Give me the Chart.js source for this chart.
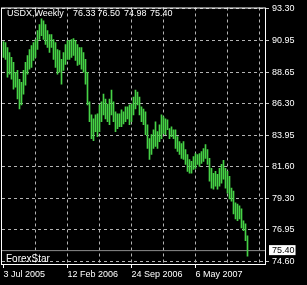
<!DOCTYPE html>
<html><head><meta charset="utf-8">
<script src="https://cdn.jsdelivr.net/npm/chart.js@4"></script>
<style>html,body{margin:0;padding:0;background:#000;overflow:hidden}#wrap{width:307px;height:285px}</style>
</head><body><div id="wrap"><canvas id="c" width="307" height="285"></canvas></div>
<script>
// Weekly USDX bars, starting week of 3 Jul 2005 (index 0)
const lows = [89.71,89.56,88.24,88.46,88.09,87.36,87.51,86.63,85.89,86.19,86.99,87.65,88.46,88.83,88.97,89.49,89.71,90.29,91.03,91.32,
91.03,90.66,90.44,90.07,90.44,89.56,88.97,88.46,88.61,87.73,88.75,89.19,89.56,89.56,89.71,89.85,89.49,89.12,89.19,88.83,
88.61,87.73,86.19,84.94,83.69,83.55,84.21,83.84,84.21,84.94,85.45,85.16,84.94,84.72,85.45,84.94,84.21,84.43,84.57,84.57,
84.79,84.94,85.16,84.72,84.94,85.45,85.89,86.19,85.45,84.94,84.72,83.99,82.96,82.15,82.52,82.96,83.11,82.96,83.47,83.69,
84.06,83.99,84.35,83.69,83.84,83.69,82.96,82.74,82.52,82.23,82.15,81.79,81.27,81.13,81.13,81.42,81.49,81.79,81.64,81.86,
82.01,82.23,81.79,80.54,80.03,79.95,80.17,79.95,80.17,80.39,80.69,80.03,79.66,79.22,79.07,78.12,77.75,77.61,77.75,77.09,
76.87,76.14,74.98];
const highs = [90.88,90.81,90.44,90.07,89.71,89.34,88.61,88.75,88.09,87.87,88.75,89.34,89.85,90.29,90.59,90.81,91.03,91.69,92.13,92.57,
92.42,92.13,91.69,91.39,91.39,91.03,90.81,90.29,90.22,89.56,90.07,90.66,90.95,90.95,91.03,91.10,90.95,90.66,90.44,90.44,
90.07,89.56,88.61,86.41,85.45,85.16,85.45,85.53,86.19,86.41,86.99,86.63,86.26,86.63,87.29,86.41,85.67,85.53,85.53,85.82,
85.67,86.04,86.04,86.19,86.26,86.77,87.29,87.14,86.77,86.04,85.89,85.67,84.72,83.69,83.99,84.35,84.94,84.21,84.72,85.45,
85.31,85.16,85.09,84.43,84.57,84.35,84.35,83.84,83.47,83.33,83.47,82.89,82.52,82.15,82.01,82.37,82.59,82.52,82.59,82.74,
82.96,83.25,82.89,82.23,81.49,81.13,81.27,81.05,81.49,81.79,82.08,81.49,81.27,80.91,80.03,79.81,78.93,78.85,78.71,78.49,
77.61,77.39,76.50];
const xTickBars = [0, 32, 64, 96];
const xTickLabels = ["3 Jul 2005", "12 Feb 2006", "24 Sep 2006", "6 May 2007"];
const xGridBars = [0, 16, 32, 48, 64, 80, 96, 112, 128];
const yTickLabels = ["74.60","76.95","79.30","81.60","83.95","86.30","88.65","90.95","93.30"];
const yLow = 74.60, yHigh = 93.30;
const lastPrice = 75.40;
const headerParts = ["USDX,Weekly", "76.33", "76.50", "74.98", "75.40"];
const watermark = "ForexStar";

const FONT = "'Liberation Sans', Arial, sans-serif";
const k = 255 / (yHigh - yLow);          // px per unit
const yMax = yHigh + 1.4 / k;
const yMin = yMax - 259 / k;
const yTickValues = yTickLabels.map((s, i) => yLow + i * (yHigh - yLow) / (yTickLabels.length - 1));
const isLast = v => Math.abs(v - lastPrice) < 1e-6;

const bars = lows.map((lo, i) => ({x: i, y: [lo, highs[i]]}));

const overlay = {
  id: 'overlay',
  afterDraw(chart) {
    const {ctx, chartArea: a} = chart;
    ctx.save();
    ctx.strokeStyle = '#ffffff';
    ctx.lineWidth = 1;
    ctx.strokeRect(a.left - 0.5, a.top + 0.5, a.right - a.left + 1, a.bottom - a.top);
    ctx.fillStyle = '#ffffff';
    ctx.font = '9px ' + FONT;
    ctx.textBaseline = 'alphabetic';
    const xs = [7, 73, 97.5, 124, 150];
    headerParts.forEach((t, i) => ctx.fillText(t, xs[i], 16));
    ctx.font = '10px ' + FONT;
    ctx.fillText(watermark, 6, 262);
    ctx.restore();
  }
};

new Chart(document.getElementById('c'), {
  type: 'bar',
  data: {
    datasets: [
      {type: 'line', data: [{x: -0.75, y: lastPrice}, {x: 130.75, y: lastPrice}], borderColor: '#8c8c8c', borderWidth: 1, pointRadius: 0, order: 2},
      {data: bars, backgroundColor: '#46d246', borderWidth: 0, barThickness: 1, grouped: false, order: 1}
    ]
  },
  options: {
    responsive: false, animation: false,
    layout: {padding: {left: 2, top: 5, right: 0, bottom: 0}},
    plugins: {legend: {display: false}, tooltip: {enabled: false}},
    scales: {
      x: {
        type: 'linear', min: -0.75, max: 130.75, offset: false,
        afterBuildTicks: s => { s.ticks = xGridBars.map(v => ({value: v})); },
        afterFit: s => { s.height = 21; },
        border: {display: false, dash: [3, 3]},
        grid: {
          offset: false,
          color: c => (c.tick && c.tick.value > 0) ? '#b4b4b4' : 'rgba(0,0,0,0)',
          tickColor: c => (c.tick && xTickBars.includes(c.tick.value)) ? '#ffffff' : 'rgba(0,0,0,0)',
          tickLength: 4, tickBorderDash: []
        },
        ticks: {
          autoSkip: false, maxRotation: 0, align: 'start', padding: 1, color: '#ffffff',
          font: {family: FONT, size: 9},
          callback: v => { const j = xTickBars.indexOf(v); return j >= 0 ? xTickLabels[j] : ''; }
        }
      },
      y: {
        type: 'linear', position: 'right', min: yMin, max: yMax, beginAtZero: false,
        afterBuildTicks: s => {
          const t = yTickValues.map(v => ({value: v}));
          t.splice(1, 0, {value: lastPrice});
          s.ticks = t;
        },
        afterFit: s => { s.width = 42; },
        border: {display: false, dash: [3, 3]},
        grid: {
          color: c => (c.tick && !isLast(c.tick.value)) ? '#b4b4b4' : 'rgba(0,0,0,0)',
          tickColor: c => (c.tick && !isLast(c.tick.value)) ? '#c8c8c8' : 'rgba(0,0,0,0)',
          tickLength: 4, tickBorderDash: []
        },
        ticks: {
          autoSkip: false, padding: 3,
          color: c => (c.tick && isLast(c.tick.value)) ? '#000000' : '#ffffff',
          showLabelBackdrop: c => !!(c.tick && isLast(c.tick.value)),
          backdropColor: '#ffffff',
          backdropPadding: {top: 1, bottom: 0, left: 3, right: 1},
          font: {family: FONT, size: 9, lineHeight: 1},
          callback: v => { if (isLast(v)) return lastPrice.toFixed(2); const j = yTickValues.findIndex(t => Math.abs(t - v) < 1e-6); return j >= 0 ? yTickLabels[j] : ''; }
        }
      }
    }
  },
  plugins: [overlay]
});
</script>
</body></html>
